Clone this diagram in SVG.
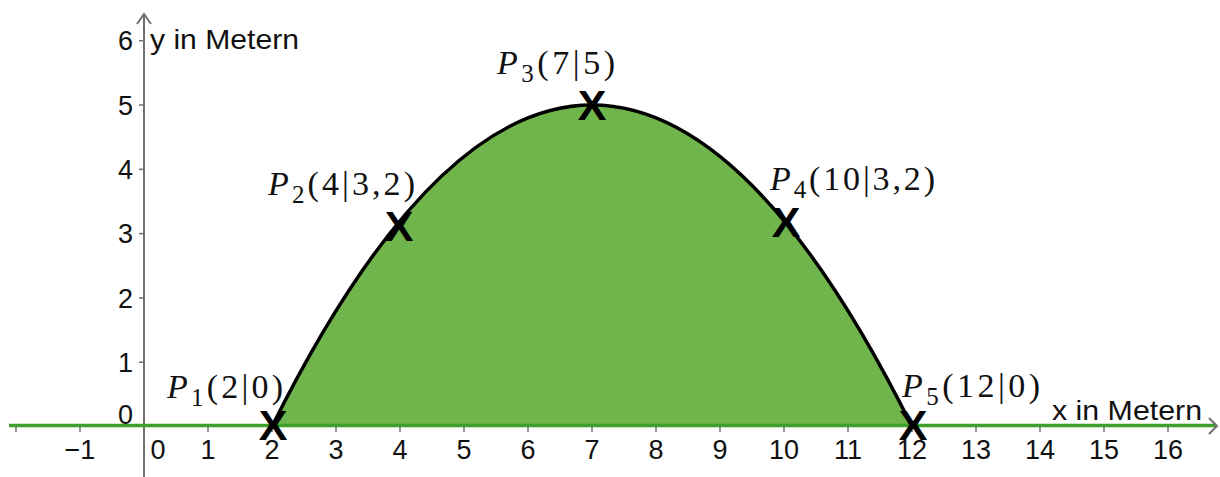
<svg xmlns="http://www.w3.org/2000/svg" width="1220" height="477" viewBox="0 0 1220 477">
  <style>
    .ax { stroke: #707070; stroke-width: 2; fill: none; }
    .tick { stroke: #707070; stroke-width: 1.5; }
    .num { font-family: "Liberation Sans", Arial, sans-serif; font-size: 27px; fill: #111; }
    .ttl { font-family: "Liberation Sans", Arial, sans-serif; font-size: 28px; fill: #111; }
    .pl { font-family: "Liberation Serif", "Times New Roman", serif; font-size: 34px; fill: #111; }
    .sub { font-size: 25px; }
    .mk { font-family: "Liberation Sans", Arial, sans-serif; font-size: 43px; font-weight: bold; fill: #000; text-anchor: middle; }
  </style>
  <rect width="1220" height="477" fill="#ffffff"/>

  <!-- filled area under the parabola -->
  <g id="area">
    <path d="M272,426.5 Q592,-216.5 912,426.5 Z" fill="#70b54c"/>
  </g>

  <!-- axes -->
  <g id="axes">
    <line class="ax" x1="144" y1="14" x2="144" y2="477"/>
    <polyline class="ax" points="137,24 144,14 151,24"/>
    <line x1="9" y1="425.5" x2="1216" y2="425.5" stroke="#3f9f2a" stroke-width="3.5"/>
    <polyline class="ax" points="1209,418 1217,426 1209,434"/>
    <g class="tick">
      <line x1="16" y1="427" x2="16" y2="432"/>
      <line x1="80" y1="427" x2="80" y2="432"/>
      <line x1="208" y1="427" x2="208" y2="432"/>
      <line x1="272" y1="427" x2="272" y2="432"/>
      <line x1="336" y1="427" x2="336" y2="432"/>
      <line x1="400" y1="427" x2="400" y2="432"/>
      <line x1="464" y1="427" x2="464" y2="432"/>
      <line x1="528" y1="427" x2="528" y2="432"/>
      <line x1="592" y1="427" x2="592" y2="432"/>
      <line x1="656" y1="427" x2="656" y2="432"/>
      <line x1="720" y1="427" x2="720" y2="432"/>
      <line x1="784" y1="427" x2="784" y2="432"/>
      <line x1="848" y1="427" x2="848" y2="432"/>
      <line x1="912" y1="427" x2="912" y2="432"/>
      <line x1="976" y1="427" x2="976" y2="432"/>
      <line x1="1040" y1="427" x2="1040" y2="432"/>
      <line x1="1104" y1="427" x2="1104" y2="432"/>
      <line x1="1168" y1="427" x2="1168" y2="432"/>
      <line x1="139" y1="362.2" x2="144" y2="362.2"/>
      <line x1="139" y1="297.9" x2="144" y2="297.9"/>
      <line x1="139" y1="233.6" x2="144" y2="233.6"/>
      <line x1="139" y1="169.3" x2="144" y2="169.3"/>
      <line x1="139" y1="105" x2="144" y2="105"/>
      <line x1="139" y1="40.7" x2="144" y2="40.7"/>
    </g>
    <g class="num" text-anchor="middle">
      <text x="80" y="459">−1</text>
      <text x="158" y="459">0</text>
      <text x="208" y="459">1</text>
      <text x="272" y="459">2</text>
      <text x="336" y="459">3</text>
      <text x="400" y="459">4</text>
      <text x="464" y="459">5</text>
      <text x="528" y="459">6</text>
      <text x="592" y="459">7</text>
      <text x="656" y="459">8</text>
      <text x="720" y="459">9</text>
      <text x="784" y="459">10</text>
      <text x="848" y="459">11</text>
      <text x="912" y="459">12</text>
      <text x="976" y="459">13</text>
      <text x="1040" y="459">14</text>
      <text x="1104" y="459">15</text>
      <text x="1168" y="459">16</text>
    </g>
    <g class="num" text-anchor="end">
      <text x="133" y="424">0</text>
      <text x="133" y="372">1</text>
      <text x="133" y="307.5">2</text>
      <text x="133" y="243.2">3</text>
      <text x="133" y="179">4</text>
      <text x="133" y="114.6">5</text>
      <text x="133" y="50.3">6</text>
    </g>
    <text class="ttl" x="1052" y="420" textLength="150" lengthAdjust="spacingAndGlyphs">x in Metern</text>
    <text class="ttl" x="150" y="49" textLength="149" lengthAdjust="spacingAndGlyphs">y in Metern</text>
  </g>

  <!-- parabola curve -->
  <g id="connectors">
    <path d="M272,426.5 Q592,-216.5 912,426.5" fill="none" stroke="#000" stroke-width="3.5"/>
  </g>

  <!-- points -->
  <g id="P1">
    <text class="mk" x="273" y="440">X</text>
    <text class="pl" x="167" y="398" textLength="116"><tspan font-style="italic">P</tspan><tspan class="sub" dy="8">1</tspan><tspan dy="-8">(2|0)</tspan></text>
  </g>
  <g id="P2">
    <text class="mk" x="399" y="241">X</text>
    <text class="pl" x="268" y="195" textLength="147"><tspan font-style="italic">P</tspan><tspan class="sub" dy="8">2</tspan><tspan dy="-8">(4|3,2)</tspan></text>
  </g>
  <g id="P3">
    <text class="mk" x="592" y="120">X</text>
    <text class="pl" x="497" y="74" textLength="118"><tspan font-style="italic">P</tspan><tspan class="sub" dy="8">3</tspan><tspan dy="-8">(7|5)</tspan></text>
  </g>
  <g id="P4">
    <text class="mk" x="786" y="237">X</text>
    <text class="pl" x="770" y="190" textLength="165"><tspan font-style="italic">P</tspan><tspan class="sub" dy="8">4</tspan><tspan dy="-8">(10|3,2)</tspan></text>
  </g>
  <g id="P5">
    <text class="mk" x="913" y="440">X</text>
    <text class="pl" x="902" y="397" textLength="138"><tspan font-style="italic">P</tspan><tspan class="sub" dy="8">5</tspan><tspan dy="-8">(12|0)</tspan></text>
  </g>
</svg>
